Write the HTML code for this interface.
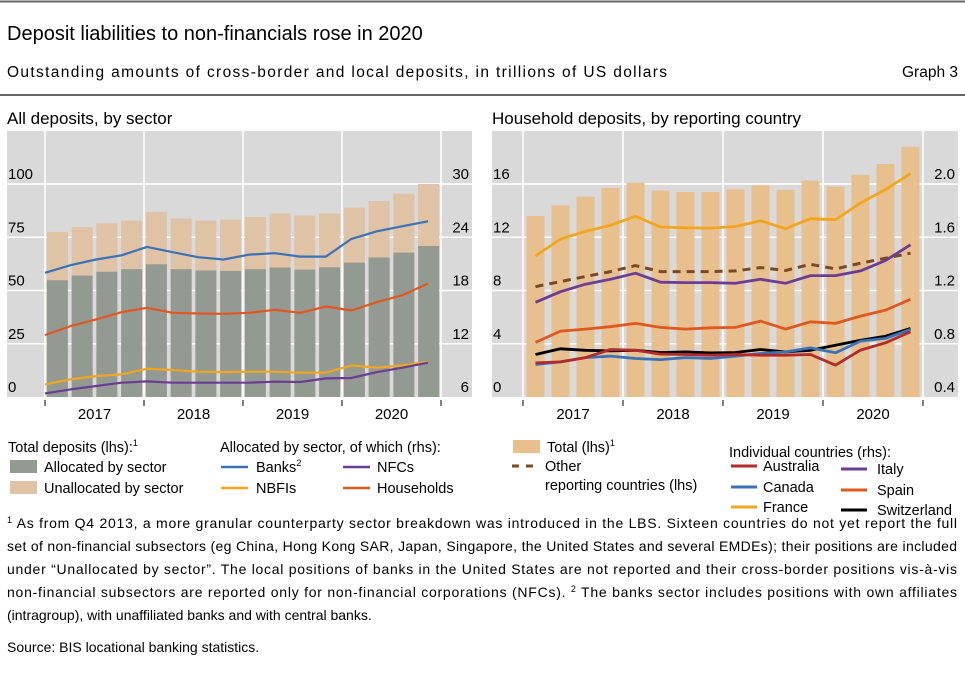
<!DOCTYPE html>
<html><head><meta charset="utf-8"><style>
body{margin:0;background:#fff;}
svg{display:block;font-family:"Liberation Sans",sans-serif;}
</style></head><body>
<svg id="c" width="965" height="680" viewBox="0 0 965 680">
<line x1="0" y1="1.5" x2="965" y2="1.5" stroke="#666" stroke-width="2"/>
<text x="7" y="40" font-size="20" fill="#000">Deposit liabilities to non-financials rose in 2020</text>
<text x="7" y="77" font-size="15.5" fill="#000" textLength="660">Outstanding amounts of cross-border and local deposits, in trillions of US dollars</text>
<text x="958" y="77" font-size="15.5" text-anchor="end">Graph 3</text>
<line x1="0" y1="95" x2="965" y2="95" stroke="#666" stroke-width="2"/>
<text x="7" y="124" font-size="17">All deposits, by sector</text>
<text x="492" y="124" font-size="17">Household deposits, by reporting country</text>
<g id="L"></g><g id="R"></g>
<g id="legend" font-size="14.5">
<text x="8" y="452">Total deposits (lhs):<tspan font-size="9" dy="-6">1</tspan></text>
<rect x="10" y="460" width="27" height="13" fill="#939a91"/>
<text x="44" y="472">Allocated by sector</text>
<rect x="10" y="481" width="27" height="13" fill="#dfc3a4"/>
<text x="44" y="493">Unallocated by sector</text>
<text x="220" y="452">Allocated by sector, of which (rhs):</text>
<line x1="221" y1="467" x2="248" y2="467" stroke="#3a72b8" stroke-width="2.5"/>
<text x="256" y="472">Banks<tspan font-size="9" dy="-6">2</tspan></text>
<line x1="343" y1="467" x2="370" y2="467" stroke="#6b3d94" stroke-width="2.5"/>
<text x="377" y="472">NFCs</text>
<line x1="221" y1="488" x2="248" y2="488" stroke="#f2a51d" stroke-width="2.5"/>
<text x="256" y="493">NBFIs</text>
<line x1="343" y1="488" x2="370" y2="488" stroke="#e0581f" stroke-width="2.5"/>
<text x="377" y="493">Households</text>
<rect x="513" y="440" width="27" height="13" fill="#e8c08d"/>
<text x="547" y="452">Total (lhs)<tspan font-size="9" dy="-6">1</tspan></text>
<line x1="512" y1="466" x2="540" y2="466" stroke="#7a4a22" stroke-width="3" stroke-dasharray="7,7"/>
<text x="545" y="471">Other</text>
<text x="545" y="490">reporting countries (lhs)</text>
<text x="729" y="457">Individual countries (rhs):</text>
<line x1="731" y1="466" x2="757" y2="466" stroke="#b22a2a" stroke-width="3"/>
<text x="763" y="471">Australia</text>
<line x1="731" y1="487" x2="757" y2="487" stroke="#3a72b8" stroke-width="3"/>
<text x="763" y="492">Canada</text>
<line x1="731" y1="507" x2="757" y2="507" stroke="#f2a51d" stroke-width="3"/>
<text x="763" y="512">France</text>
<line x1="841" y1="469" x2="867" y2="469" stroke="#6b3d94" stroke-width="3"/>
<text x="877" y="474">Italy</text>
<line x1="841" y1="490" x2="867" y2="490" stroke="#e0581f" stroke-width="3"/>
<text x="877" y="495">Spain</text>
<line x1="841" y1="510" x2="867" y2="510" stroke="#000" stroke-width="3"/>
<text x="877" y="515">Switzerland</text>
</g>
<g font-size="14">
<text x="7" y="528" textLength="950"><tspan font-size="9" dy="-5">1</tspan><tspan dy="5">  As from Q4 2013, a more granular counterparty sector breakdown was introduced in the LBS. Sixteen countries do not yet report the full</tspan></text>
<text x="7" y="551" textLength="950">set of non-financial subsectors (eg China, Hong Kong SAR, Japan, Singapore, the United States and several EMDEs); their positions are included</text>
<text x="7" y="574" textLength="950">under “Unallocated by sector”. The local positions of banks in the United States are not reported and their cross-border positions vis-à-vis</text>
<text x="7" y="597" textLength="950">non-financial subsectors are reported only for non-financial corporations (NFCs).   <tspan font-size="9" dy="-5">2</tspan><tspan dy="5">  The banks sector includes positions with own affiliates</tspan></text>
<text x="7" y="620">(intragroup), with unaffiliated banks and with central banks.</text>
<text x="7" y="652">Source: BIS locational banking statistics.</text>
</g>
</svg>
<script>
const years=["2017","2018","2019","2020"];
const leftTicksL=[0,25,50,75,100];
const leftTicksR=[6,12,18,24,30];
const totalDep=[77.5,79.8,81.6,82.8,86.9,83.8,82.8,83.3,84.5,86.1,85.2,86.1,88.9,92.0,95.5,100];
const allocDep=[54.8,57.0,58.8,60.0,62.3,60.0,59.4,59.2,60.0,60.8,59.8,60.9,63.1,65.5,67.8,70.9];
const banks=[19.99,20.85,21.49,21.97,22.91,22.31,21.75,21.49,22.05,22.2,21.82,21.82,23.81,24.67,25.24,25.8];
const households=[12.97,13.99,14.74,15.56,16.05,15.49,15.41,15.37,15.49,15.82,15.49,16.2,15.75,16.69,17.47,18.79];
const nbfis=[7.42,7.99,8.36,8.55,9.19,9.04,8.85,8.81,8.85,8.85,8.74,8.74,9.56,9.3,9.56,9.97];
const nfcs=[6.41,6.86,7.24,7.61,7.76,7.61,7.61,7.61,7.61,7.72,7.69,8.1,8.14,8.81,9.3,9.86];
const rightTicksL=[0,4,8,12,16];
const rightTicksR=["0.4","0.8","1.2","1.6","2.0"];
const hhTotal=[13.6,14.4,15.05,15.7,16.1,15.5,15.4,15.4,15.6,15.9,15.55,16.25,15.8,16.7,17.5,18.8];
const otherCountries=[8.29,8.67,9.05,9.42,9.87,9.42,9.42,9.42,9.47,9.72,9.5,9.97,9.62,10.05,10.43,10.8];
const france=[1.46,1.586,1.644,1.69,1.757,1.677,1.671,1.669,1.681,1.724,1.664,1.739,1.732,1.857,1.958,2.078];
const italy=[1.111,1.191,1.247,1.284,1.33,1.262,1.259,1.259,1.254,1.284,1.254,1.312,1.312,1.347,1.425,1.543];
const spain=[0.81,0.895,0.91,0.928,0.953,0.923,0.91,0.92,0.923,0.97,0.91,0.965,0.953,1.008,1.053,1.134];
const switzerland=[0.719,0.762,0.751,0.746,0.751,0.734,0.739,0.731,0.734,0.757,0.739,0.751,0.789,0.827,0.857,0.915];
const canada=[0.644,0.664,0.696,0.707,0.689,0.681,0.696,0.689,0.707,0.727,0.739,0.769,0.732,0.82,0.84,0.908];
const australia=[0.656,0.664,0.696,0.757,0.751,0.722,0.719,0.714,0.719,0.714,0.714,0.719,0.639,0.752,0.807,0.89];

const NS="http://www.w3.org/2000/svg";
function mk(p,t,a){const e=document.createElementNS(NS,t);for(const k in a)e.setAttribute(k,a[k]);p.appendChild(e);return e;}
function panel(g,cfg){
  const {x0,x1,yTop,yBot,yr0,yearW,lmin,lmax,rmin,rmax,lt,rtl}=cfg;
  const bg=mk(g,'rect',{x:x0,y:yTop,width:x1-x0,height:yBot-yTop,fill:'#d9d9d9'});
  
  
  const yL=v=>yBot-(v-lmin)/(lmax-lmin)*(yBot-184);
  const yR=v=>yBot-(v-rmin)/(rmax-rmin)*(yBot-184);
  lt.forEach((v,i)=>{
    const y=yL(v);
    if(i>0){const gl=mk(g,'line',{x1:x0,x2:x1,y1:y,y2:y,stroke:'#fff','stroke-width':1.5});
      
      }
    const t=mk(g,'text',{x:x0+1,y:y-5,'font-size':15});t.textContent=v;
    
    
    const t2=mk(g,'text',{x:x1-3,y:y-5,'font-size':15,'text-anchor':'end'});t2.textContent=rtl[i];
    
    
  });
  for(let k=0;k<=years.length;k++){
    const x=yr0+k*yearW;
    const vl=mk(g,'line',{x1:x,x2:x,y1:yTop,y2:yBot,stroke:'#fff','stroke-width':1.5});
    
    
    const tk=mk(g,'line',{x1:x,x2:x,y1:yBot+3,y2:yBot+9,stroke:'#000','stroke-width':1});
    
    
    if(k<years.length){const t=mk(g,'text',{x:x+yearW/2,y:yBot+22,'font-size':15,'text-anchor':'middle'});t.textContent=years[k];
      
      }
  }
  return {yL,yR};
}
function line(g,xs,vals,yf,color,name,dash,w){
  const d=vals.map((v,i)=>(i?'L':'M')+xs(i).toFixed(1)+','+yf(v).toFixed(1)).join('');
  const p=mk(g,'path',{d:d,fill:'none',stroke:color,'stroke-width':w||2.2,'stroke-linejoin':'round'});
  if(dash)p.setAttribute('stroke-dasharray',dash);
  
  
}
const gL=document.getElementById('L');
const A=panel(gL,{x0:7,x1:472,yTop:131,yBot:397,yr0:45,yearW:99,lmin:0,lmax:100,rmin:6,rmax:30,lt:leftTicksL,rtl:leftTicksR});
const qL=99/4;
totalDep.forEach((v,i)=>{
  const cx=45+qL*(i+0.5);
  const r1=mk(gL,'rect',{x:cx-10.5,y:A.yL(v),width:21,height:A.yL(0)-A.yL(v),fill:'#dfc3a4'});
  
  
  const r2=mk(gL,'rect',{x:cx-10.5,y:A.yL(allocDep[i]),width:21,height:A.yL(0)-A.yL(allocDep[i]),fill:'#939a91'});
  
  
});
const xL=i=>45+i*(383/15);
line(gL,xL,banks,A.yR,'#3a72b8','line-banks');
line(gL,xL,households,A.yR,'#e0581f','line-households');
line(gL,xL,nbfis,A.yR,'#f2a51d','line-nbfis');
line(gL,xL,nfcs,A.yR,'#6b3d94','line-nfcs');
const gR=document.getElementById('R');
const B=panel(gR,{x0:492,x1:958,yTop:131,yBot:397,yr0:523,yearW:100,lmin:0,lmax:16,rmin:0.4,rmax:2.0,lt:rightTicksL,rtl:rightTicksR});
const xR=i=>535.5+25*i;
hhTotal.forEach((v,i)=>{
  const r=mk(gR,'rect',{x:xR(i)-9,y:B.yL(v),width:18,height:B.yL(0)-B.yL(v),fill:'#e8c08d'});
  
  
});
line(gR,xR,otherCountries,B.yL,'#7a4a22','line-other-countries','8,6',3);
line(gR,xR,france,B.yR,'#f2a51d','line-france',null,2.8);
line(gR,xR,italy,B.yR,'#6b3d94','line-italy',null,2.8);
line(gR,xR,spain,B.yR,'#e0581f','line-spain',null,2.8);
line(gR,xR,switzerland,B.yR,'#000','line-switzerland',null,2.8);
line(gR,xR,canada,B.yR,'#3a72b8','line-canada',null,2.8);
line(gR,xR,australia,B.yR,'#b22a2a','line-australia',null,2.8);
</script>
</body></html>
